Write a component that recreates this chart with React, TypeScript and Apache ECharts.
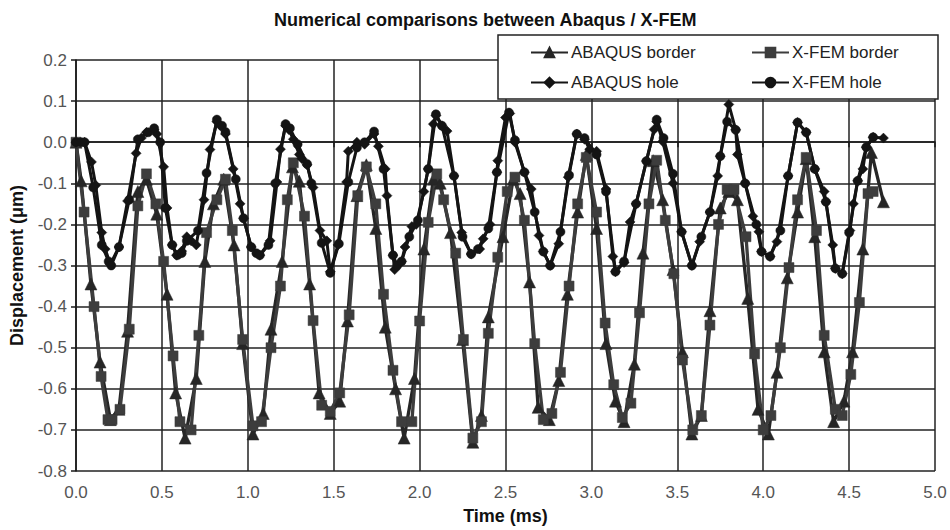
import React, { useEffect, useRef } from "react";
import * as echarts from "echarts";

const titleText = "Numerical comparisons between Abaqus / X-FEM";
const xName = "Time (ms)";
const yName = "Displacement (\u03bcm)";
const seriesNames = ["ABAQUS border", "X-FEM border", "ABAQUS hole", "X-FEM hole"];

const abaqusBorder: [number, number][] = [
  [0, 0], [0.03, -0.094], [0.087, -0.345], [0.14, -0.535], [0.2, -0.675], [0.25, -0.65],
  [0.3, -0.46], [0.36, -0.12], [0.41, -0.09], [0.47, -0.175], [0.53, -0.37], [0.58, -0.61],
  [0.635, -0.72], [0.7, -0.575], [0.75, -0.29], [0.8, -0.15], [0.86, -0.09], [0.92, -0.25],
  [0.97, -0.49], [1.03, -0.71], [1.09, -0.66], [1.135, -0.455], [1.2, -0.29], [1.26, -0.06],
  [1.3, -0.095], [1.36, -0.345], [1.415, -0.61], [1.48, -0.66], [1.535, -0.63], [1.58, -0.435],
  [1.635, -0.13], [1.69, -0.055], [1.745, -0.21], [1.8, -0.45], [1.86, -0.6], [1.91, -0.72],
  [1.97, -0.575], [2.025, -0.26], [2.08, -0.09], [2.12, -0.1], [2.18, -0.22], [2.25, -0.48],
  [2.31, -0.73], [2.36, -0.665], [2.4, -0.425], [2.485, -0.23], [2.545, -0.09], [2.585, -0.125],
  [2.64, -0.34], [2.69, -0.645], [2.755, -0.675], [2.81, -0.58], [2.86, -0.37], [2.92, -0.17],
  [2.97, -0.03], [3.03, -0.21], [3.085, -0.49], [3.14, -0.63], [3.19, -0.68], [3.25, -0.54],
  [3.3, -0.27], [3.36, -0.045], [3.415, -0.14], [3.475, -0.31], [3.53, -0.51], [3.585, -0.71],
  [3.64, -0.665], [3.69, -0.41], [3.75, -0.16], [3.8, -0.12], [3.85, -0.14], [3.91, -0.38],
  [3.97, -0.65], [4.03, -0.71], [4.08, -0.56], [4.14, -0.33], [4.2, -0.17], [4.25, -0.04],
  [4.3, -0.23], [4.355, -0.51], [4.41, -0.68], [4.47, -0.63], [4.52, -0.51], [4.58, -0.26],
  [4.63, -0.025], [4.7, -0.145],
];

const xfemBorder: [number, number][] = [
  [0, 0], [0.047, -0.17], [0.105, -0.4], [0.146, -0.57], [0.186, -0.675], [0.21, -0.675],
  [0.256, -0.65], [0.31, -0.455], [0.36, -0.155], [0.41, -0.077], [0.465, -0.15], [0.51, -0.29],
  [0.565, -0.52], [0.605, -0.68], [0.67, -0.7], [0.715, -0.47], [0.76, -0.22], [0.82, -0.14],
  [0.87, -0.09], [0.91, -0.215], [0.97, -0.48], [1.03, -0.69], [1.08, -0.68], [1.135, -0.5],
  [1.19, -0.35], [1.23, -0.14], [1.265, -0.05], [1.33, -0.18], [1.38, -0.434], [1.43, -0.64],
  [1.48, -0.655], [1.535, -0.61], [1.59, -0.42], [1.64, -0.13], [1.69, -0.06], [1.745, -0.15],
  [1.79, -0.37], [1.845, -0.555], [1.895, -0.68], [1.955, -0.68], [2.0, -0.435], [2.05, -0.195],
  [2.1, -0.077], [2.14, -0.14], [2.21, -0.27], [2.255, -0.48], [2.31, -0.72], [2.36, -0.68],
  [2.4, -0.465], [2.455, -0.28], [2.51, -0.12], [2.555, -0.085], [2.61, -0.19], [2.67, -0.49],
  [2.72, -0.675], [2.77, -0.66], [2.82, -0.56], [2.87, -0.35], [2.92, -0.15], [2.97, -0.037],
  [3.03, -0.17], [3.08, -0.44], [3.13, -0.59], [3.18, -0.67], [3.23, -0.635], [3.28, -0.415],
  [3.335, -0.15], [3.38, -0.044], [3.43, -0.19], [3.48, -0.32], [3.53, -0.53], [3.59, -0.7],
  [3.64, -0.665], [3.69, -0.445], [3.74, -0.2], [3.79, -0.115], [3.83, -0.115], [3.9, -0.23],
  [3.95, -0.515], [4.0, -0.7], [4.045, -0.665], [4.1, -0.5], [4.15, -0.305], [4.2, -0.14],
  [4.25, -0.037], [4.31, -0.215], [4.355, -0.47], [4.42, -0.65], [4.46, -0.665], [4.51, -0.565],
  [4.56, -0.39], [4.61, -0.125], [4.64, -0.12],
];

const abaqusHole: [number, number][] = [
  [0, 0], [0.05, 0], [0.09, -0.048], [0.115, -0.105], [0.15, -0.22], [0.17, -0.26], [0.2, -0.297],
  [0.25, -0.255], [0.3, -0.143], [0.35, -0.027], [0.38, 0.01], [0.41, 0.024], [0.455, 0.03],
  [0.47, 0.02], [0.51, -0.06], [0.53, -0.16], [0.56, -0.25], [0.585, -0.275], [0.615, -0.265],
  [0.645, -0.23], [0.67, -0.24], [0.7, -0.25], [0.745, -0.14], [0.78, -0.018], [0.82, 0.05],
  [0.84, 0.04], [0.87, 0.02], [0.915, -0.065], [0.955, -0.15], [0.975, -0.185], [1.02, -0.255],
  [1.07, -0.275], [1.13, -0.24], [1.17, -0.097], [1.19, -0.017], [1.22, 0.04], [1.24, 0.03],
  [1.265, 0.007], [1.3, -0.03], [1.315, -0.04], [1.345, -0.055], [1.38, -0.11], [1.42, -0.215],
  [1.46, -0.24], [1.48, -0.315], [1.525, -0.25], [1.575, -0.097], [1.585, -0.022], [1.635, 0],
  [1.68, -0.005], [1.735, 0.02], [1.76, -0.01], [1.8, -0.065], [1.81, -0.13], [1.845, -0.275],
  [1.855, -0.31], [1.895, -0.29], [1.915, -0.255], [1.955, -0.205], [1.98, -0.2], [2.025, -0.12],
  [2.05, -0.065], [2.08, 0.044], [2.095, 0.065], [2.13, 0.04], [2.16, 0.027], [2.2, -0.082],
  [2.245, -0.22], [2.3, -0.272], [2.35, -0.26], [2.37, -0.235], [2.41, -0.2], [2.45, -0.073],
  [2.455, -0.045], [2.5, 0.06], [2.525, 0.07], [2.555, 0], [2.61, -0.073], [2.65, -0.114],
  [2.695, -0.227], [2.72, -0.266], [2.76, -0.3], [2.81, -0.247], [2.865, -0.085], [2.915, 0.02],
  [2.96, 0.007], [2.99, -0.017], [3.03, -0.022], [3.085, -0.114], [3.125, -0.278], [3.14, -0.315],
  [3.19, -0.293], [3.225, -0.194], [3.26, -0.15], [3.32, -0.046], [3.365, 0.031], [3.38, 0.05],
  [3.415, 0.002], [3.475, -0.1], [3.525, -0.218], [3.585, -0.3], [3.63, -0.242], [3.69, -0.17],
  [3.735, -0.082], [3.75, -0.034], [3.8, 0.092], [3.84, 0.03], [3.85, -0.03], [3.895, -0.1],
  [3.94, -0.18], [3.975, -0.218], [3.99, -0.266], [4.04, -0.278], [4.08, -0.242], [4.145, -0.082],
  [4.2, 0.048], [4.25, 0.024], [4.3, -0.065], [4.355, -0.12], [4.365, -0.145], [4.405, -0.25],
  [4.42, -0.307], [4.46, -0.32], [4.505, -0.215], [4.525, -0.15], [4.55, -0.094], [4.58, -0.065],
  [4.6, -0.012], [4.64, 0.012], [4.7, 0.01],
];

const xfemHole: [number, number][] = [
  [0, 0], [0.03, 0], [0.05, 0], [0.1, -0.11], [0.15, -0.25], [0.19, -0.29], [0.205, -0.3],
  [0.25, -0.255], [0.31, -0.14], [0.36, 0.007], [0.42, 0.024], [0.455, 0.034], [0.49, 0.0],
  [0.52, -0.16], [0.56, -0.25], [0.59, -0.275], [0.615, -0.27], [0.645, -0.24], [0.71, -0.215],
  [0.76, -0.075], [0.82, 0.055], [0.85, 0.04], [0.87, 0.025], [0.93, -0.09], [0.975, -0.185],
  [1.02, -0.255], [1.05, -0.27], [1.07, -0.275], [1.12, -0.25], [1.16, -0.1], [1.22, 0.044],
  [1.245, 0.034], [1.29, -0.005], [1.345, -0.053], [1.37, -0.1], [1.43, -0.245], [1.48, -0.318],
  [1.53, -0.247], [1.585, -0.097], [1.635, -0.013], [1.68, 0.0], [1.735, 0.026], [1.79, -0.065],
  [1.845, -0.275], [1.87, -0.3], [1.895, -0.29], [1.94, -0.23], [1.99, -0.19], [2.05, -0.065],
  [2.095, 0.068], [2.13, 0.04], [2.2, -0.082], [2.25, -0.23], [2.3, -0.272], [2.34, -0.26],
  [2.4, -0.21], [2.45, -0.073], [2.52, 0.072], [2.555, 0.005], [2.61, -0.073], [2.67, -0.17],
  [2.72, -0.266], [2.76, -0.3], [2.82, -0.218], [2.87, -0.08], [2.915, 0.02], [2.96, 0.01],
  [3.03, -0.03], [3.085, -0.12], [3.14, -0.315], [3.19, -0.29], [3.26, -0.15], [3.32, -0.046],
  [3.38, 0.055], [3.42, 0.01], [3.475, -0.077], [3.525, -0.218], [3.585, -0.3], [3.64, -0.23],
  [3.69, -0.17], [3.75, -0.034], [3.79, 0.05], [3.84, 0.03], [3.895, -0.1], [3.96, -0.2],
  [3.99, -0.266], [4.04, -0.278], [4.1, -0.215], [4.145, -0.082], [4.2, 0.048], [4.25, 0.024],
  [4.3, -0.065], [4.365, -0.145], [4.42, -0.307], [4.46, -0.32], [4.5, -0.22], [4.55, -0.094],
  [4.6, -0.012], [4.64, 0.012],
];

const FONT = "'Liberation Sans', Arial, sans-serif";

const fmt = (v: number) => (Math.abs(v) < 1e-9 ? "0.0" : v.toFixed(1));

export default function App() {
  const ref = useRef<HTMLDivElement>(null);
  useEffect(() => {
    if (!ref.current) return;
    const chart = echarts.init(ref.current, null, { renderer: "svg" });
    const lineSeries = (
      name: string,
      data: [number, number][],
      symbol: string,
      size: number,
      color: string,
      width: number
    ) => ({
      name,
      type: "line",
      data,
      symbol,
      symbolSize: size,
      showSymbol: true,
      smooth: false,
      itemStyle: { color, borderColor: color, borderWidth: 0.5 },
      lineStyle: { color, width },
      emphasis: { disabled: true },
    });
    const legendText = { fontSize: 17, color: "#222", fontFamily: FONT, padding: [0, 0, 0, -2] };
    chart.setOption({
      animation: false,
      backgroundColor: "#ffffff",
      textStyle: { fontFamily: FONT },
      title: {
        text: titleText,
        left: 269,
        top: 6,
        textStyle: { fontSize: 18, fontWeight: "bold", color: "#111", fontFamily: FONT },
      },
      grid: { left: 76, right: 15, top: 60, bottom: 57, containLabel: false },
      xAxis: {
        type: "value",
        min: 0,
        max: 5,
        interval: 0.5,
        name: xName,
        nameLocation: "middle",
        nameGap: 36,
        nameTextStyle: { fontSize: 18, fontWeight: "bold", color: "#111", fontFamily: FONT },
        axisLine: { show: true, lineStyle: { color: "#1a1a1a", width: 1.6 } },
        axisTick: { show: true, length: 5, lineStyle: { color: "#1a1a1a", width: 1.5 } },
        axisLabel: { formatter: fmt, fontSize: 17, color: "#555", margin: 13, fontFamily: FONT },
        splitLine: { show: true, lineStyle: { color: "#222", width: 1.5 } },
      },
      yAxis: {
        type: "value",
        min: -0.8,
        max: 0.2,
        interval: 0.1,
        name: yName,
        nameLocation: "middle",
        nameGap: 50,
        nameRotate: 90,
        nameTextStyle: { fontSize: 18, fontWeight: "bold", color: "#111", fontFamily: FONT },
        axisLine: { show: true, lineStyle: { color: "#1a1a1a", width: 1.6 } },
        axisTick: { show: true, length: 5, lineStyle: { color: "#1a1a1a", width: 1.5 } },
        axisLabel: { formatter: fmt, fontSize: 17, color: "#555", margin: 9, fontFamily: FONT },
        splitLine: { show: true, lineStyle: { color: "#222", width: 1.5 } },
      },
      graphic: [
        {
          type: "rect",
          z: 3,
          shape: { x: 498, y: 35, width: 440, height: 64 },
          style: { fill: "#ffffff", stroke: "#222", lineWidth: 1.5 },
          silent: true,
        },
      ],
      legend: [
        {
          z: 5,
          orient: "vertical",
          left: 525,
          top: 39,
          itemWidth: 37,
          itemHeight: 12,
          itemGap: 13,
          data: [seriesNames[0], seriesNames[2]],
          textStyle: legendText,
          selectedMode: false,
        },
        {
          z: 5,
          orient: "vertical",
          left: 746,
          top: 39,
          itemWidth: 37,
          itemHeight: 12,
          itemGap: 13,
          data: [seriesNames[1], seriesNames[3]],
          textStyle: legendText,
          selectedMode: false,
        },
      ],
      series: [
        lineSeries(seriesNames[0], abaqusBorder, "triangle", 12, "#262626", 3.3),
        lineSeries(seriesNames[1], xfemBorder, "rect", 10, "#3d3d3d", 3.3),
        lineSeries(seriesNames[2], abaqusHole, "diamond", 10, "#141414", 3),
        lineSeries(seriesNames[3], xfemHole, "circle", 9, "#141414", 3),
      ],
    });
    return () => chart.dispose();
  }, []);
  return (
    <div
      ref={ref}
      style={{ position: "absolute", left: 0, top: 0, width: 950, height: 530 }}
    />
  );
}
